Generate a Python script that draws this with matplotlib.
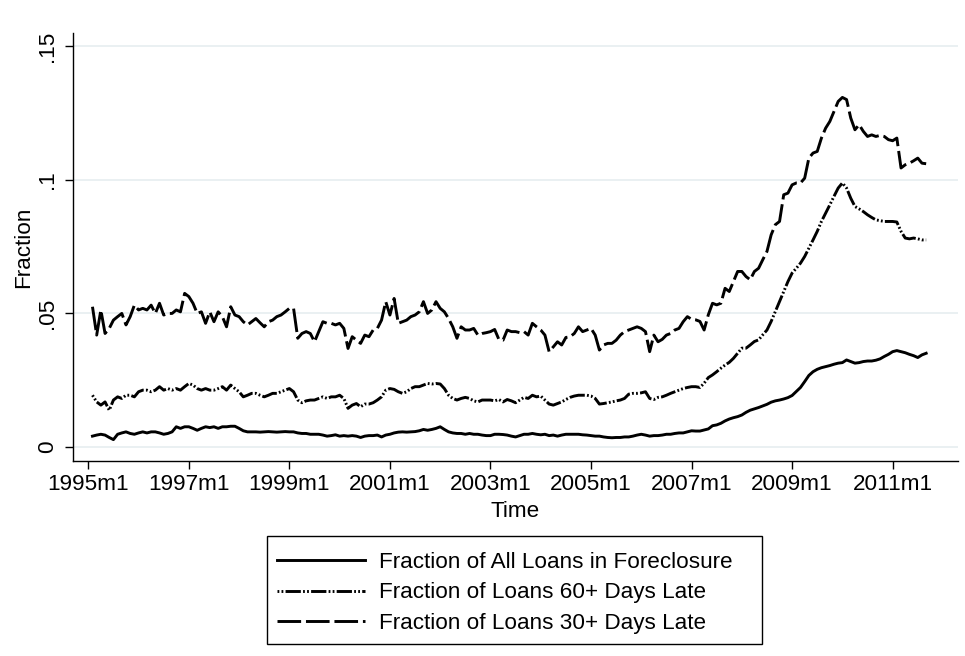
import numpy as np
import matplotlib
matplotlib.use("Agg")
import matplotlib.pyplot as plt
from matplotlib.patches import Rectangle

# monthly series, first value is 1995m2
start_month = 1

foreclosure = [
    0.0041, 0.0045, 0.0048, 0.0045, 0.0036, 0.0028, 0.0048, 0.0053, 0.0057, 0.0051, 0.0048, 0.0053,
    0.0057, 0.0053, 0.0057, 0.0057, 0.0053, 0.0048, 0.0051, 0.0057, 0.0076, 0.0070, 0.0076, 0.0076,
    0.0070, 0.0063, 0.0070, 0.0076, 0.0073, 0.0076, 0.0070, 0.0076, 0.0076, 0.0078, 0.0078, 0.0070,
    0.0061, 0.0057, 0.0057, 0.0057, 0.0056, 0.0057, 0.0058, 0.0057, 0.0056, 0.0057, 0.0058, 0.0057,
    0.0057, 0.0053, 0.0051, 0.0051, 0.0048, 0.0048, 0.0048, 0.0045, 0.0041, 0.0043, 0.0046, 0.0041,
    0.0043, 0.0041, 0.0043, 0.0041, 0.0036, 0.0041, 0.0043, 0.0043, 0.0045, 0.0038, 0.0045, 0.0048,
    0.0053, 0.0056, 0.0057, 0.0056, 0.0057, 0.0058, 0.0061, 0.0066, 0.0063, 0.0066, 0.0070, 0.0076,
    0.0066, 0.0057, 0.0053, 0.0051, 0.0051, 0.0048, 0.0051, 0.0048, 0.0048, 0.0045, 0.0043, 0.0043,
    0.0048, 0.0048, 0.0047, 0.0045, 0.0041, 0.0038, 0.0043, 0.0048, 0.0048, 0.0051, 0.0048, 0.0046,
    0.0048, 0.0043, 0.0045, 0.0041, 0.0045, 0.0048, 0.0048, 0.0048, 0.0048, 0.0046, 0.0045, 0.0043,
    0.0041, 0.0041, 0.0038, 0.0036, 0.0035, 0.0036, 0.0036, 0.0038, 0.0038, 0.0041, 0.0045, 0.0048,
    0.0045, 0.0041, 0.0043, 0.0043, 0.0045, 0.0048, 0.0048, 0.0051, 0.0053, 0.0053, 0.0057, 0.0061,
    0.0060, 0.0060, 0.0064, 0.0068, 0.0080, 0.0083, 0.0089, 0.0098, 0.0105, 0.0110, 0.0114, 0.0120,
    0.0130, 0.0138, 0.0143, 0.0148, 0.0154, 0.0160, 0.0168, 0.0173, 0.0176, 0.0180, 0.0185, 0.0193,
    0.0208, 0.0223, 0.0245, 0.0268, 0.0282, 0.0291, 0.0297, 0.0301, 0.0305, 0.0310, 0.0314, 0.0316,
    0.0326, 0.0320, 0.0314, 0.0316, 0.0320, 0.0322, 0.0322, 0.0325, 0.0330, 0.0339, 0.0347, 0.0357,
    0.0361, 0.0357, 0.0353, 0.0347, 0.0342, 0.0335, 0.0345, 0.0351,
]

late60 = [
    0.0194, 0.0169, 0.0157, 0.0169, 0.0138, 0.0176, 0.0188, 0.0182, 0.0194, 0.0194, 0.0188, 0.0207,
    0.0213, 0.0213, 0.0207, 0.0213, 0.0226, 0.0213, 0.0219, 0.0213, 0.0219, 0.0213, 0.0226, 0.0238,
    0.0232, 0.0219, 0.0213, 0.0219, 0.0213, 0.0213, 0.0219, 0.0226, 0.0213, 0.0232, 0.0219, 0.0207,
    0.0188, 0.0194, 0.0201, 0.0201, 0.0194, 0.0188, 0.0194, 0.0201, 0.0201, 0.0207, 0.0213, 0.0219,
    0.0207, 0.0176, 0.0166, 0.0173, 0.0176, 0.0176, 0.0182, 0.0188, 0.0182, 0.0188, 0.0188, 0.0194,
    0.0182, 0.0145, 0.0157, 0.0163, 0.0151, 0.0161, 0.0161, 0.0166, 0.0176, 0.0188, 0.0213, 0.0219,
    0.0216, 0.0207, 0.0201, 0.0207, 0.0219, 0.0226, 0.0226, 0.0232, 0.0238, 0.0236, 0.0238, 0.0236,
    0.0219, 0.0194, 0.0182, 0.0176, 0.0182, 0.0186, 0.0182, 0.0173, 0.0169, 0.0176, 0.0176, 0.0176,
    0.0173, 0.0178, 0.0169, 0.0178, 0.0173, 0.0166, 0.0176, 0.0186, 0.0182, 0.0194, 0.0188, 0.0191,
    0.0176, 0.0161, 0.0157, 0.0163, 0.0169, 0.0178, 0.0186, 0.0191, 0.0194, 0.0194, 0.0194, 0.0191,
    0.0182, 0.0161, 0.0163, 0.0166, 0.0169, 0.0173, 0.0176, 0.0182, 0.0198, 0.0201, 0.0201, 0.0203,
    0.0207, 0.0182, 0.0178, 0.0186, 0.0188, 0.0194, 0.0201, 0.0207, 0.0213, 0.0219, 0.0223, 0.0226,
    0.0226, 0.0223, 0.0239, 0.0260, 0.0270, 0.0282, 0.0295, 0.0307, 0.0317, 0.0332, 0.0351, 0.0370,
    0.0370, 0.0382, 0.0395, 0.0401, 0.0420, 0.0438, 0.0470, 0.0507, 0.0545, 0.0582, 0.0619, 0.0651,
    0.0669, 0.0688, 0.0713, 0.0744, 0.0775, 0.0807, 0.0844, 0.0875, 0.0906, 0.0938, 0.0969, 0.0988,
    0.0969, 0.0931, 0.0900, 0.0891, 0.0881, 0.0869, 0.0859, 0.0850, 0.0847, 0.0844, 0.0844, 0.0844,
    0.0842, 0.0807, 0.0782, 0.0779, 0.0782, 0.0779, 0.0775, 0.0775,
]

late30 = [
    0.0525, 0.0419, 0.0513, 0.0425, 0.0444, 0.0475, 0.0488, 0.0500, 0.0457, 0.0488, 0.0531, 0.0513,
    0.0519, 0.0513, 0.0531, 0.0500, 0.0538, 0.0494, 0.0500, 0.0500, 0.0513, 0.0506, 0.0575, 0.0563,
    0.0538, 0.0500, 0.0506, 0.0463, 0.0506, 0.0469, 0.0506, 0.0488, 0.0450, 0.0525, 0.0494, 0.0488,
    0.0469, 0.0457, 0.0469, 0.0481, 0.0465, 0.0450, 0.0469, 0.0475, 0.0488, 0.0494, 0.0506, 0.0519,
    0.0519, 0.0407, 0.0425, 0.0432, 0.0425, 0.0394, 0.0432, 0.0469, 0.0463, 0.0463, 0.0457, 0.0463,
    0.0444, 0.0369, 0.0413, 0.0400, 0.0388, 0.0419, 0.0413, 0.0438, 0.0444, 0.0475, 0.0544, 0.0494,
    0.0556, 0.0463, 0.0469, 0.0475, 0.0488, 0.0494, 0.0506, 0.0544, 0.0500, 0.0513, 0.0544, 0.0519,
    0.0506, 0.0481, 0.0450, 0.0407, 0.0450, 0.0438, 0.0438, 0.0444, 0.0419, 0.0425, 0.0428, 0.0432,
    0.0440, 0.0403, 0.0400, 0.0438, 0.0432, 0.0432, 0.0428, 0.0432, 0.0419, 0.0463, 0.0450, 0.0438,
    0.0419, 0.0357, 0.0375, 0.0394, 0.0382, 0.0410, 0.0413, 0.0425, 0.0450, 0.0432, 0.0438, 0.0444,
    0.0419, 0.0363, 0.0382, 0.0388, 0.0388, 0.0400, 0.0419, 0.0432, 0.0438, 0.0444, 0.0450, 0.0444,
    0.0432, 0.0357, 0.0419, 0.0394, 0.0403, 0.0419, 0.0425, 0.0438, 0.0444, 0.0469, 0.0488, 0.0478,
    0.0476, 0.0470, 0.0438, 0.0495, 0.0538, 0.0532, 0.0538, 0.0594, 0.0582, 0.0619, 0.0657, 0.0657,
    0.0638, 0.0626, 0.0657, 0.0669, 0.0701, 0.0732, 0.0794, 0.0832, 0.0844, 0.0944, 0.0950, 0.0981,
    0.0988, 0.0988, 0.1006, 0.1081, 0.1100, 0.1106, 0.1156, 0.1193, 0.1218, 0.1256, 0.1293, 0.1308,
    0.1300, 0.1231, 0.1187, 0.1206, 0.1181, 0.1162, 0.1168, 0.1162, 0.1166, 0.1162, 0.1150, 0.1146,
    0.1156, 0.1044, 0.1056, 0.1062, 0.1071, 0.1081, 0.1062, 0.1060,
]

labels = [
    "Fraction of All Loans in Foreclosure",
    "Fraction of Loans 60+ Days Late",
    "Fraction of Loans 30+ Days Late",
]

tick_years = [1995, 1997, 1999, 2001, 2003, 2005, 2007, 2009, 2011]
y_ticks = [0, 0.05, 0.1, 0.15]
y_tick_labels = ["0", ".05", ".1", ".15"]

W, H = 965, 656


def main():
    plt.rcParams["font.family"] = ["Liberation Sans", "DejaVu Sans"]
    plt.rcParams["lines.scale_dashes"] = False
    fs = 16.2

    fig = plt.figure(figsize=(W / 100, H / 100), dpi=100)
    ax = fig.add_axes([73 / W, 1 - 461 / H, 885 / W, 428 / H])

    x = np.arange(len(late30)) + start_month

    ax.plot(x, foreclosure, color="black", lw=2.1, solid_joinstyle="round",
            label=labels[0])
    ax.plot(x, late60, color="black", lw=2.1,
            dashes=(1.3, 1.6, 1.3, 1.6, 11, 1.6), label=labels[1])
    ax.plot(x, late30, color="black", lw=2.1, dashes=(17, 3.5),
            label=labels[2])

    ax.set_xlim(-3.65, 207.6)
    ax.set_ylim(-0.0052, 0.1549)

    xt = [(y - 1995) * 12 for y in tick_years]
    ax.set_xticks(xt)
    ax.set_xticklabels([f"{y}m1" for y in tick_years], fontsize=fs)
    ax.set_yticks(y_ticks)
    ax.set_yticklabels(y_tick_labels, fontsize=fs, rotation=90, va="center")

    ax.tick_params(axis="both", direction="out", length=6, width=1.0,
                   color="black")
    ax.tick_params(axis="x", pad=3)
    ax.tick_params(axis="y", pad=5)

    for s in ["top", "right"]:
        ax.spines[s].set_visible(False)
    for s in ["left", "bottom"]:
        ax.spines[s].set_linewidth(1.0)

    ax.grid(axis="y", color="#e6eef0", lw=1.2)
    ax.set_axisbelow(True)

    ax.set_xlabel("Time", fontsize=fs, labelpad=5)
    ax.set_ylabel("Fraction", fontsize=fs, labelpad=2)

    # legend box drawn separately so the frame can match the original
    fig.patches.append(Rectangle((267 / W, 1 - 644 / H), 495 / W, 108 / H,
                                 transform=fig.transFigure, fill=False,
                                 edgecolor="black", lw=1.0))
    fig.legend(loc="upper left", bbox_to_anchor=(277 / W, 1 - 552 / H),
               fontsize=fs, frameon=False, handlelength=3.9,
               handletextpad=0.65, labelspacing=0.42, borderpad=0,
               borderaxespad=0)

    fig.savefig("out.png", dpi=100)


if __name__ == "__main__":
    main()
